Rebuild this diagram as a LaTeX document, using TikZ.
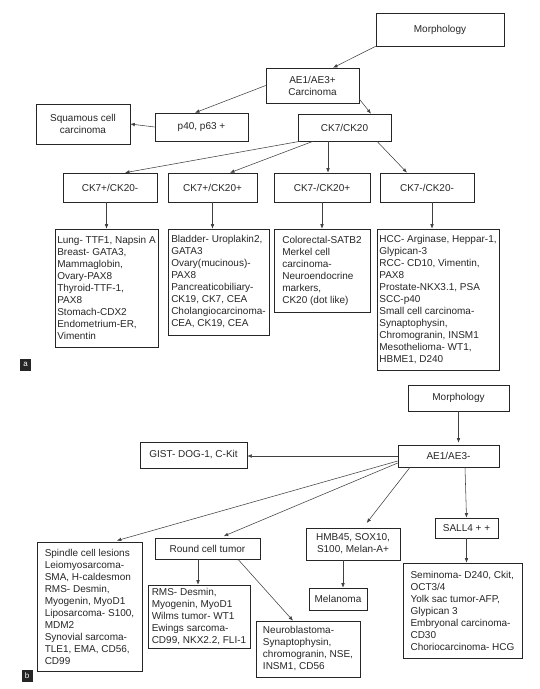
\documentclass[tikz,border=0pt]{standalone}
\usepackage{fontspec}
\setmainfont{Liberation Sans}
\usetikzlibrary{arrows.meta,calc}
\begin{document}
\begin{tikzpicture}[x=1pt,y=-1pt,
  every node/.style={font=\fontsize{10}{12}\selectfont, text=black!85},
  cbox/.style={draw=black!85, line width=0.6pt, inner sep=1pt, align=center},
  tbox/.style={draw=black!85, line width=0.6pt, inner sep=1pt, align=left},
  conn/.style={draw=black!75, line width=0.55pt, -{Latex[length=4.5pt,width=3.6pt]}},
  panellbl/.style={fill=black!85, text=white, inner sep=0pt, minimum width=11pt, minimum height=12pt, font=\fontsize{8}{8}\selectfont}
]
\useasboundingbox (0,0) rectangle (540,689);

% ---------- panel a ----------
\node[cbox, minimum width=128, minimum height=33] (morph) at (440,29.5) {Morphology};
\node[cbox, minimum width=93, minimum height=35] (ae) at (312.5,85.5) {AE1/AE3+\\Carcinoma};
\node[cbox, minimum width=94, minimum height=40] (sq) at (83,124) {Squamous cell\\carcinoma};
\node[cbox, minimum width=93, minimum height=28] (p40) at (201.5,127) {p40, p63 +};
\node[cbox, minimum width=93, minimum height=27] (ck) at (344.5,127.5) {CK7/CK20};

\node[cbox, minimum width=94, minimum height=29] (c1) at (110,187.5) {CK7+/CK20-};
\node[cbox, minimum width=89, minimum height=29] (c2) at (212.5,187.5) {CK7+/CK20+};
\node[cbox, minimum width=96, minimum height=29] (c3) at (322,187.5) {CK7-/CK20+};
\node[cbox, minimum width=94, minimum height=29] (c4) at (427,187.5) {CK7-/CK20-};

\node[tbox, minimum width=103, minimum height=118] (d1) at (106.5,288) {Lung- TTF1, Napsin A\\Breast- GATA3,\\Mammaglobin,\\Ovary-PAX8\\Thyroid-TTF-1,\\PAX8\\Stomach-CDX2\\Endometrium-ER,\\Vimentin};
\node[tbox, minimum width=101, minimum height=106] (d2) at (218.5,282) {Bladder- Uroplakin2,\\GATA3\\Ovary(mucinous)-\\PAX8\\Pancreaticobiliary-\\CK19, CK7, CEA\\Cholangiocarcinoma-\\CEA, CK19, CEA};
\node[tbox, minimum width=96, minimum height=83] (d3) at (322,270.5) {Colorectal-SATB2\\Merkel cell\\carcinoma-\\Neuroendocrine\\markers,\\CK20 (dot like)};
\node[tbox, minimum width=122, minimum height=141] (d4) at (438,299.5) {HCC- Arginase, Heppar-1,\\Glypican-3\\RCC- CD10, Vimentin,\\PAX8\\Prostate-NKX3.1, PSA\\SCC-p40\\Small cell carcinoma-\\Synaptophysin,\\Chromogranin, INSM1\\Mesothelioma- WT1,\\HBME1, D240};

\node[panellbl] (la) at (25.5,364.5) {a};

\draw[conn] (morph.south west) -- ([xshift=20.5pt]ae.north);
\draw[conn] (ae.west) -- ([xshift=-6.5pt]p40.north);
\draw[conn] ([yshift=-13.5pt]ae.east) -- ([xshift=26.5pt]ck.north);
\draw[conn] (p40.west) -- (sq.east);
\draw[conn] ([xshift=-44.5pt]ck.south) -- ([xshift=15pt]c1.north);
\draw[conn] ([xshift=-31.5pt]ck.south) -- ([xshift=17.5pt]c2.north);
\draw[conn] ([xshift=-16.5pt]ck.south) -- ([xshift=-16.5pt]ck.south |- c3.north);
\draw[conn] ([xshift=32.5pt]ck.south) -- ([xshift=-20pt]c4.north);
\draw[conn] (d1.north |- c1.south) -- (d1.north);
\draw[conn] (c2.south) -- (c2.south |- d2.north);
\draw[conn] (c3.south) -- (c3.south |- d3.north);
\draw[conn] ([xshift=5pt]c4.south) -- ([xshift=5pt]c4.south |- d4.north);

% ---------- panel b ----------
\node[cbox, minimum width=101, minimum height=26] (m2) at (458.5,398) {Morphology};
\node[cbox, minimum width=101, minimum height=22] (ae2) at (448.5,456) {AE1/AE3-};
\node[cbox, minimum width=107, minimum height=26] (gist) at (193.5,455) {GIST- DOG-1, C-Kit};
\node[cbox, minimum width=63, minimum height=20] (sall) at (466.5,528) {SALL4 + +};
\node[cbox, minimum width=94, minimum height=32] (hmb) at (353,544) {HMB45, SOX10,\\S100, Melan-A+};
\node[cbox, minimum width=58, minimum height=22] (mel) at (338,599) {Melanoma};
\node[cbox, minimum width=105, minimum height=21] (round) at (207.5,548.5) {Round cell tumor};

\node[tbox, minimum width=105, minimum height=129] (spin) at (89.5,606.5) {Spindle cell lesions\\Leiomyosarcoma-\\SMA, H-caldesmon\\RMS- Desmin,\\Myogenin, MyoD1\\Liposarcoma- S100,\\MDM2\\Synovial sarcoma-\\TLE1, EMA, CD56,\\CD99};
\node[tbox, minimum width=102, minimum height=63] (rms) at (199,616.5) {RMS- Desmin,\\Myogenin, MyoD1\\Wilms tumor- WT1\\Ewings sarcoma-\\CD99, NKX2.2, FLI-1};
\node[tbox, minimum width=104, minimum height=56] (neuro) at (308,649) {Neuroblastoma-\\Synaptophysin,\\chromogranin, NSE,\\INSM1, CD56};
\node[tbox, minimum width=119, minimum height=95] (sem) at (462.5,610.5) {Seminoma- D240, Ckit,\\OCT3/4\\Yolk sac tumor-AFP,\\Glypican 3\\Embryonal carcinoma-\\CD30\\Choriocarcinoma- HCG};

\node[panellbl] (lb) at (27,675.5) {b};

\draw[conn, shorten >=2pt] (m2.south) -- (m2.south |- ae2.north);
\draw[conn] (ae2.west) -- (ae2.west -| gist.east);
\draw[conn, shorten >=4pt] ([yshift=-5pt]ae2.west) -- ([xshift=23.5pt]spin.north);
\draw[conn, shorten >=4pt] ([yshift=-7pt]ae2.west) -- ([xshift=12.5pt]round.north);
\draw[conn, shorten >=6pt] ([xshift=-38.5pt]ae2.south) -- ([xshift=10pt]hmb.north);
\draw[conn] ([xshift=16.5pt]ae2.south) -- (sall.north);
\draw[conn] (sall.south) -- (sall.south |- sem.north);
\draw[conn] ([xshift=-10pt]hmb.south) -- ([xshift=-10pt]hmb.south |- mel.north);
\draw[conn] ([xshift=-9.5pt]round.south) -- ([xshift=-9.5pt]round.south |- rms.north);
\draw[conn] ([xshift=30.5pt]round.south) -- ([xshift=-15pt]neuro.north);
\end{tikzpicture}
\end{document}
